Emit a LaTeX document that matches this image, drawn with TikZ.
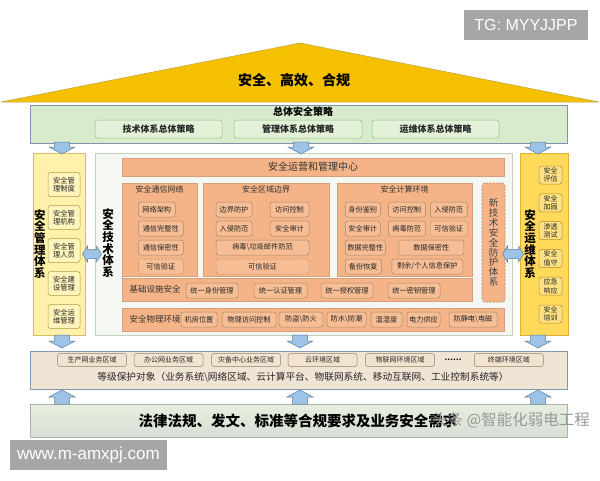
\documentclass[tikz,border=0pt]{standalone}
\usepackage{fontspec}
\setmainfont{Noto Sans CJK SC}
\newfontfamily\wmfont{Liberation Sans}
\usepackage{tikz}
\usetikzlibrary{positioning, calc}
\definecolor{roofyellow}{HTML}{F5C000}
\definecolor{roofedge}{HTML}{B5A64A}
\definecolor{stratfill}{HTML}{D8ECCD}
\definecolor{stratsub}{HTML}{E2F1D8}
\definecolor{stratedge}{HTML}{7F93AC}
\definecolor{subedge}{HTML}{98BC86}
\definecolor{mgmtfill}{HTML}{FFF1AA}
\definecolor{mgmtedge}{HTML}{D9BE62}
\definecolor{mgmtitem}{HTML}{FFF4BC}
\definecolor{mgmtitemedge}{HTML}{B39B45}
\definecolor{techfill}{HTML}{F5F7F2}
\definecolor{techedge}{HTML}{C4D2BD}
\definecolor{orangefill}{HTML}{F5B487}
\definecolor{orangeedge}{HTML}{D69F78}
\definecolor{orangeitem}{HTML}{F7BE96}
\definecolor{orangeitemedge}{HTML}{A98A6C}
\definecolor{opsfill}{HTML}{FFD95A}
\definecolor{opsedge}{HTML}{DDB134}
\definecolor{opsitem}{HTML}{FFE183}
\definecolor{opsitemedge}{HTML}{B28C2C}
\definecolor{zonefill}{HTML}{F0E4D4}
\definecolor{zoneedge}{HTML}{8198B4}
\definecolor{zoneitem}{HTML}{F1E3CF}
\definecolor{zoneitemedge}{HTML}{8E866C}
\definecolor{lawtop}{HTML}{E6EFDF}
\definecolor{lawbottom}{HTML}{D9DED5}
\definecolor{lawedge}{HTML}{A8B6A6}
\definecolor{arrfill}{HTML}{9DC3E6}
\definecolor{arredge}{HTML}{5E7D9C}
\definecolor{wmgray}{HTML}{A6A6A6}
\newcommand{\fsz}[2]{\fontsize{#1}{#2}\selectfont}

\begin{document}
\begin{tikzpicture}[
  x=1pt, y=-1pt,
  panel/.style={rectangle, draw=#1, line width=0.6pt, inner sep=0pt},
  pitem/.style={rectangle, rounded corners=2.5pt, line width=0.5pt, inner sep=0pt, minimum height=15pt, font=\fsz{7.2}{8}, text=black!85},
  oitem/.style={pitem, draw=orangeitemedge, fill=orangeitem},
  trust/.style={oitem, dash pattern=on 2pt off 1.5pt},
  mitem/.style={pitem, draw=mgmtitemedge, fill=mgmtitem, minimum width=32pt, minimum height=24pt, align=center, font=\fsz{7.3}{8.5}},
  ritem/.style={pitem, draw=opsitemedge, fill=opsitem, minimum width=23pt, minimum height=18pt, align=center, font=\fsz{7}{8.5}},
  zitem/.style={pitem, draw=zoneitemedge, fill=zoneitem, minimum width=69pt, minimum height=13pt, font=\fsz{7}{8}},
  sitem/.style={pitem, draw=subedge, fill=stratsub, minimum width=127pt, minimum height=18pt, font=\bfseries\fsz{9}{10}},
  vlabel/.style={align=center, inner sep=0pt, font=\bfseries\fsz{11.5}{11.7}},
  ptitle/.style={inner sep=0pt, font=\fsz{8}{9}, text=black!80},
  blockarr/.style={draw=arredge, fill=arrfill, line width=0.5pt, line join=miter},
  blockdown/.pic={\draw[blockarr] (-7.5,-#1) -- (7.5,-#1) -- (7.5,#1-7) -- (13,#1-7) -- (0,#1) -- (-13,#1-7) -- (-7.5,#1-7) -- cycle;},
  blockup/.pic={\draw[blockarr] (-7.5,#1) -- (7.5,#1) -- (7.5,7-#1) -- (13,7-#1) -- (0,-#1) -- (-13,7-#1) -- (-7.5,7-#1) -- cycle;},
  blockboth/.pic={\draw[blockarr] (-#1,0) -- (5-#1,-8) -- (5-#1,-4.5) -- (#1-5,-4.5) -- (#1-5,-8) -- (#1,0) -- (#1-5,8) -- (#1-5,4.5) -- (5-#1,4.5) -- (5-#1,8) -- cycle;},
  wmbox/.style={rectangle, fill=wmgray, text=white, inner sep=0pt, minimum height=30pt}
]
  \useasboundingbox (0,0) rectangle (600,480);

  % Roof
  \draw[roofedge, fill=roofyellow, line width=0.5pt] (1,102) -- (300,43) -- (599,102) -- cycle;
  \node[font=\bfseries\fsz{14}{16}] (goal) at (294,80) {安全、高效、合规};

  % Overall strategy
  \node[panel=stratedge, fill=stratfill, minimum width=537pt, minimum height=38pt] (strat) at (298.5,124) {};
  \node[font=\bfseries\fsz{10}{11}] (strattitle) at (303,112) {总体安全策略};
  \node[sitem] (techpol) at (158.5,129) {技术体系总体策略};
  \node[sitem, minimum width=128pt] (mgmtpol) at (298,129) {管理体系总体策略};
  \node[sitem] (opspol) at (435.5,129) {运维体系总体策略};

  % Management system
  \node[panel=mgmtedge, fill=mgmtfill, minimum width=52pt, minimum height=182pt] (mgmt) at (59,244) {};
  \node[vlabel] (mgmtlbl) at (40,244) {安\\全\\管\\理\\体\\系};
  \node[mitem] (m1) at (64,184.5) {安全管\\理制度};
  \node[mitem, below=8.5pt of m1] (m2) {安全管\\理机构};
  \node[mitem, below=8.5pt of m2] (m3) {安全管\\理人员};
  \node[mitem, below=8.5pt of m3] (m4) {安全建\\设管理};
  \node[mitem, below=8.5pt of m4] (m5) {安全运\\维管理};

  % Technical system
  \node[panel=techedge, fill=techfill, minimum width=417pt, minimum height=182pt] (tech) at (303.5,244) {};
  \node[vlabel] (techlbl) at (108,243) {安\\全\\技\\术\\体\\系};
  \node[panel=orangeedge, fill=orangefill, minimum width=382pt, minimum height=18pt, font=\fsz{10}{11}, text=black!80] (soc) at (313,167) {安全运营和管理中心};

  % Communication network
  \node[panel=orangeedge, fill=orangefill, minimum width=75pt, minimum height=93pt] (net) at (159.5,229.5) {};
  \node[ptitle, below=3pt of net.north] (nettitle) {安全通信网络};
  \node[oitem, minimum width=37pt, anchor=west] (n1) at (138,209.5) {网络架构};
  \node[oitem, minimum width=45pt, below=3.5pt of n1.south west, anchor=north west] (n2) {通信完整性};
  \node[oitem, minimum width=45pt, below=3.5pt of n2.south west, anchor=north west] (n3) {通信保密性};
  \node[trust, minimum width=45pt, below=3.5pt of n3.south west, anchor=north west] (n4) {可信验证};

  % Area boundary
  \node[panel=orangeedge, fill=orangefill, minimum width=126pt, minimum height=93pt] (bound) at (266,229.5) {};
  \node[ptitle, below=3pt of bound.north] (boundtitle) {安全区域边界};
  \node[oitem, minimum width=36pt] (b1) at (234,209.5) {边界防护};
  \node[oitem, minimum width=39pt] (b2) at (289.5,209.5) {访问控制};
  \node[oitem, minimum width=36pt, below=3.5pt of b1] (b3) {入侵防范};
  \node[oitem, minimum width=39pt, below=3.5pt of b2] (b4) {安全审计};
  \node[oitem, minimum width=93pt, below=3.5pt of b3.south west, anchor=north west] (b5) {病毒\textbackslash 垃圾邮件防范};
  \node[trust, minimum width=93pt, below=3.5pt of b5] (b6) {可信验证};

  % Computing environment
  \node[panel=orangeedge, fill=orangefill, minimum width=135pt, minimum height=93pt] (comp) at (404.5,229.5) {};
  \node[ptitle, below=3pt of comp.north] (comptitle) {安全计算环境};
  \node[oitem, minimum width=35pt, anchor=west] (c1) at (345,209.5) {身份鉴别};
  \node[oitem, minimum width=37pt, anchor=west] (c2) at (388,209.5) {访问控制};
  \node[oitem, minimum width=37pt, anchor=west] (c3) at (430,209.5) {入侵防范};
  \node[oitem, minimum width=35pt, below=3.5pt of c1] (c4) {安全审计};
  \node[oitem, minimum width=37pt, below=3.5pt of c2] (c5) {病毒防范};
  \node[trust, minimum width=37pt, below=3.5pt of c3] (c6) {可信验证};
  \node[oitem, minimum width=40pt, below=3.5pt of c4.south west, anchor=north west] (c7) {数据完整性};
  \node[oitem, minimum width=65pt, right=13pt of c7] (c8) {数据保密性};
  \node[oitem, minimum width=36pt, below=3.5pt of c7.south west, anchor=north west] (c9) {备份恢复};
  \node[oitem, minimum width=71pt, right=10pt of c9] (c10) {剩余/个人信息保护};

  % New technology
  \node[panel=orangeitemedge, fill=orangefill, dash pattern=on 2pt off 1.5pt, rounded corners=3pt, minimum width=23pt, minimum height=119pt, align=center, font=\fsz{9.5}{9.9}, text=black!75] (newtech) at (493.5,242.5) {新\\技\\术\\安\\全\\防\\护\\体\\系};

  % Infrastructure
  \node[panel=orangeedge, fill=orangefill, minimum width=350pt, minimum height=23pt] (infra) at (297,289.5) {};
  \node[font=\fsz{8.5}{9}, text=black!80] (infralbl) at (155,289.5) {基础设施安全};
  \node[oitem, minimum width=52pt] (i1) at (212,290.5) {统一身份管理};
  \node[oitem, minimum width=53pt] (i2) at (280.5,290.5) {统一认证管理};
  \node[oitem, minimum width=52pt] (i3) at (347,290.5) {统一授权管理};
  \node[oitem, minimum width=52pt] (i4) at (414,290.5) {统一密钥管理};

  % Physical environment
  \node[panel=orangeedge, fill=orangefill, minimum width=382pt, minimum height=23pt] (phys) at (313,319.5) {};
  \node[font=\fsz{8.5}{9}, text=black!80] (physlbl) at (155,319.5) {安全物理环境};
  \node[oitem, minimum width=36pt] (p1) at (199,319.5) {机房位置};
  \node[oitem, minimum width=54pt] (p2) at (249,319.5) {物理访问控制};
  \node[oitem, minimum width=44pt] (p3) at (301,319.5) {防盗\textbackslash 防火};
  \node[oitem, minimum width=39pt] (p4) at (346.5,319.5) {防水\textbackslash 防潮};
  \node[oitem, minimum width=31pt] (p5) at (386.5,319.5) {温湿度};
  \node[oitem, minimum width=33pt] (p6) at (423.5,319.5) {电力供应};
  \node[oitem, minimum width=48pt] (p7) at (473,319.5) {防静电\textbackslash 电磁};

  % Operations system
  \node[panel=opsedge, fill=opsfill, minimum width=48pt, minimum height=182pt] (ops) at (544,244) {};
  \node[vlabel] (opslbl) at (530,244) {安\\全\\运\\维\\体\\系};
  \node[ritem] (r1) at (550.5,175) {安全\\评估};
  \node[ritem, below=9.3pt of r1] (r2) {安全\\加固};
  \node[ritem, below=9.3pt of r2] (r3) {渗透\\测试};
  \node[ritem, below=9.3pt of r3] (r4) {安全\\值守};
  \node[ritem, below=9.3pt of r4] (r5) {应急\\响应};
  \node[ritem, below=9.3pt of r5] (r6) {安全\\培训};

  % Protected objects
  \node[panel=zoneedge, fill=zonefill, minimum width=537pt, minimum height=38pt] (zones) at (298.5,370) {};
  \node[zitem] (z1) at (92,360) {生产网业务区域};
  \node[zitem, right=7pt of z1] (z2) {办公网业务区域};
  \node[zitem, right=8pt of z2] (z3) {灾备中心业务区域};
  \node[zitem, right=7pt of z3] (z4) {云环境区域};
  \node[zitem, right=8pt of z4] (z5) {物联网环境区域};
  \node[font=\bfseries\fsz{7.5}{8}] (zdots) at (453,360) {……};
  \node[zitem, anchor=west] (z6) at (474,360) {终端环境区域};
  \node[font=\fsz{9.7}{11}, text=black!85] (zonetext) at (303,377) {等级保护对象（业务系统\textbackslash 网络区域、云计算平台、物联网系统、移动互联网、工业控制系统等）};

  % Compliance base
  \node[panel=lawedge, top color=lawtop, bottom color=lawbottom, minimum width=537pt, minimum height=33pt] (law) at (298.5,420.5) {};
  \node[font=\bfseries\fsz{14.5}{16}] (lawtext) at (298,421) {法律法规、发文、标准等合规要求及业务安全需求};

  % Block arrows
  \pic (a1) at (62,148) {blockdown=6};
  \pic (a2) at ($(strat.south)!0.5!(tech.north)$) {blockdown=6};
  \pic (a3) at (538,148) {blockdown=6};
  \pic (d1) at (92,254) {blockboth=9.5};
  \pic (d2) at (513,254) {blockboth=10.5};
  \pic (a4) at (62,341.5) {blockdown=6.5};
  \pic (a5) at (300,341.5) {blockdown=6.5};
  \pic (a6) at (538,341.5) {blockdown=6.5};
  \pic (u1) at (62,397) {blockup=7};
  \pic (u2) at (300,397) {blockup=7};
  \pic (u3) at (538,397) {blockup=7};

  % Watermarks
  \node[wmbox, minimum width=124pt, font=\wmfont\fsz{16}{18}] (tg) at (526,25) {TG: MYYJJPP};
  \node[wmbox, minimum width=157pt, font=\wmfont\fsz{17}{19}] (www) at (88.5,455) {www.m-amxpj.com};
  \node[font=\fsz{15.5}{17}, text=black!40] (toutiao) at (511,420) {头条 @智能化弱电工程};
\end{tikzpicture}
\end{document}
